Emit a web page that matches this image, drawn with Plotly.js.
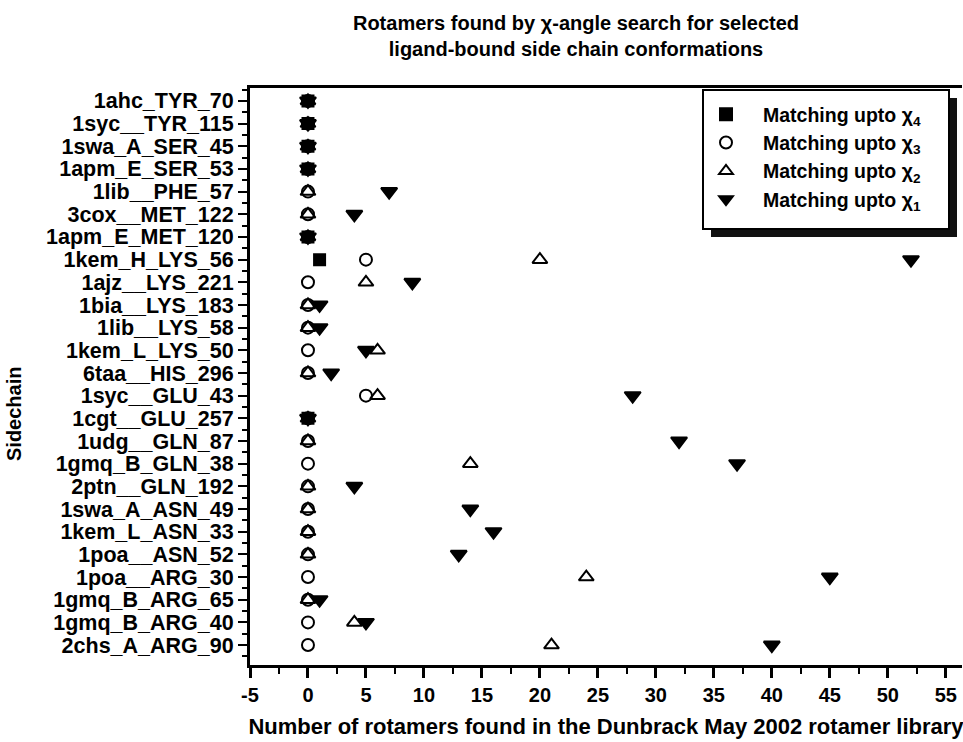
<!DOCTYPE html>
<html>
<head>
<meta charset="utf-8">
<script src="https://cdn.plot.ly/plotly-3.0.1.min.js"></script>
<style>
html,body{margin:0;padding:0;background:#ffffff;}
#chart{width:963px;height:742px;}
</style>
</head>
<body>
<div id="chart"></div>
<script>
// Side chains, top to bottom
const sidechains = [
  "1ahc_TYR_70", "1syc__TYR_115", "1swa_A_SER_45", "1apm_E_SER_53",
  "1lib__PHE_57", "3cox__MET_122", "1apm_E_MET_120", "1kem_H_LYS_56",
  "1ajz__LYS_221", "1bia__LYS_183", "1lib__LYS_58", "1kem_L_LYS_50",
  "6taa__HIS_296", "1syc__GLU_43", "1cgt__GLU_257", "1udg__GLN_87",
  "1gmq_B_GLN_38", "2ptn__GLN_192", "1swa_A_ASN_49", "1kem_L_ASN_33",
  "1poa__ASN_52", "1poa__ARG_30", "1gmq_B_ARG_65", "1gmq_B_ARG_40",
  "2chs_A_ARG_90"
];
// Number of rotamers found when matching up to chi4 / chi3 / chi2 / chi1
const chi4 = [0, 0, 0, 0, null, null, 0, 1, null, null, null, null, null, null, 0, null, null, null, null, null, null, null, null, null, null];
const chi3 = [0, 0, 0, 0, 0, 0, 0, 5, 0, 0, 0, 0, 0, 5, 0, 0, 0, 0, 0, 0, 0, 0, 0, 0, 0];
const chi2 = [0, 0, 0, 0, 0, 0, 0, 20, 5, 0, 0, 6, 0, 6, 0, 0, 14, 0, 0, 0, 0, 24, 0, 4, 21];
const chi1 = [0, 0, 0, 0, 7, 4, 0, 52, 9, 1, 1, 5, 2, 28, 0, 32, 37, 4, 14, 16, 13, 45, 1, 5, 40];
const seriesNames = ["Matching upto \u03c7<sub>4</sub>", "Matching upto \u03c7<sub>3</sub>",
                     "Matching upto \u03c7<sub>2</sub>", "Matching upto \u03c7<sub>1</sub>"];
const xTickVals = [-5, 0, 5, 10, 15, 20, 25, 30, 35, 40, 45, 50, 55];

const FONT = "Liberation Sans, Arial, sans-serif";
const rowIndex = sidechains.map((_, i) => i);

function mk(vals, name, symbol, size) {
  return {
    type: "scatter", mode: "markers", name: name,
    x: vals, y: rowIndex,
    marker: {symbol: symbol, size: size, color: "#000000", line: {color: "#000000", width: 2}},
    legendgroup: name, cliponaxis: false, hoverinfo: "x+y"
  };
}

const traces = [
  mk(chi4, seriesNames[0], "square", 11),
  mk(chi3, seriesNames[1], "circle-open", 12),
  mk(chi2, seriesNames[2], "triangle-up-open", 13),
  mk(chi1, seriesNames[3], "triangle-down", 14)
];

// plot area in pixels: left 250, right 962, top 88, bottom 665
const L = 250, R = 962, T = 88, B = 665;
const px = v => (v - L) / (R - L);
const py = v => (B - v) / (B - T);

const layout = {
  width: 963, height: 742,
  margin: {l: L, r: 963 - R, t: T, b: 742 - B, pad: 0},
  paper_bgcolor: "#ffffff", plot_bgcolor: "#ffffff",
  font: {family: FONT, color: "#000000", weight: 700},
  title: {
    text: "Rotamers found by \u03c7-angle search for selected<br>ligand-bound side chain conformations",
    font: {family: FONT, size: 20, color: "#000000", weight: 700},
    x: 576 / 963, xanchor: "center", xref: "container",
    y: 0.959, yanchor: "top", yref: "container"
  },
  xaxis: {
    range: [-5, 56.4], tickmode: "array", tickvals: xTickVals, ticktext: xTickVals.map(String),
    showgrid: false, zeroline: false,
    showline: true, linecolor: "#000000", linewidth: 3, mirror: true,
    ticks: "outside", ticklen: 10, tickwidth: 3, tickcolor: "#000000",
    minor: {tickmode: "linear", tick0: -2.5, dtick: 5, ticks: "outside", ticklen: 6, tickwidth: 2, tickcolor: "#000000", showgrid: false},
    tickfont: {family: FONT, size: 20, color: "#000000", weight: 700},
    title: {text: "Number of rotamers found in the Dunbrack May 2002 rotamer library",
            font: {family: FONT, size: 22, color: "#000000", weight: 700}, standoff: 14},
    automargin: false, fixedrange: true
  },
  yaxis: {
    range: [24.88, -0.57], tickmode: "array", tickvals: rowIndex, ticktext: sidechains,
    showgrid: false, zeroline: false,
    showline: true, linecolor: "#000000", linewidth: 3, mirror: false,
    ticks: "outside", ticklen: 9, tickwidth: 2, tickcolor: "#000000",
    minor: {tickmode: "linear", tick0: 0.5, dtick: 1, ticks: "outside", ticklen: 5, tickwidth: 2, tickcolor: "#000000", showgrid: false},
    tickfont: {family: FONT, size: 21.5, color: "#000000", weight: 700},
    automargin: false, fixedrange: true
  },
  showlegend: true,
  legend: {
    x: px(689), y: py(95), xanchor: "left", yanchor: "top",
    bgcolor: "rgba(0,0,0,0)", borderwidth: 0,
    font: {family: FONT, size: 19.5, color: "#000000", weight: 700},
    tracegroupgap: 0, itemsizing: "constant", itemwidth: 64
  },
  shapes: [
    {type: "rect", xref: "paper", yref: "paper", x0: px(711), x1: px(957), y0: py(98), y1: py(237),
     fillcolor: "#111111", line: {width: 0}, layer: "above"},
    {type: "rect", xref: "paper", yref: "paper", x0: px(703), x1: px(949), y0: py(90), y1: py(229),
     fillcolor: "#ffffff", line: {color: "#000000", width: 2}, layer: "above"}
  ],
  annotations: [
    {text: "Sidechain", xref: "paper", yref: "paper", x: px(14), y: py(414),
     xanchor: "center", yanchor: "middle", textangle: -90, showarrow: false,
     font: {family: FONT, size: 20, color: "#000000", weight: 700}}
  ]
};

Plotly.newPlot("chart", traces, layout, {displayModeBar: false, staticPlot: true});
</script>
</body>
</html>
